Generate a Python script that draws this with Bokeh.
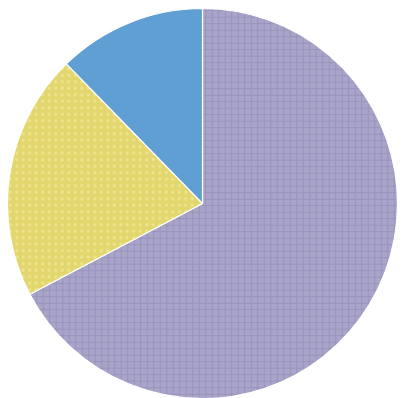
from math import pi
from bokeh.plotting import figure
from bokeh.models import Range1d, ColumnDataSource
from bokeh.embed import file_html
from bokeh.resources import INLINE

labels = ["A", "B", "C"]
values = [67.3, 20.4, 12.3]
colors = ["#A9A4C9", "#E2D66E", "#5F9FD3"]
hatch_colors = ["#8C87B1", "#F6EEA6", "#5F9FD3"]
hatch_patterns = ["cross", "dot", " "]

total = sum(values)
starts, ends = [], []
acc = 0.0
for v in values:
    # clockwise from 12 o'clock
    a0 = pi / 2 - 2 * pi * acc / total
    acc += v
    a1 = pi / 2 - 2 * pi * acc / total
    starts.append(a0)
    ends.append(a1)

src = ColumnDataSource(dict(label=labels, value=values, start=starts, end=ends,
                            color=colors, hcolor=hatch_colors, hpat=hatch_patterns,
                            x=[202] * 3, y=[398 - 203] * 3))

p = figure(width=402, height=398, output_backend="svg", toolbar_location=None,
           x_range=Range1d(0, 402), y_range=Range1d(0, 398), min_border=0)
p.wedge(x="x", y="y", radius=195, radius_units="screen",
        start_angle="start", end_angle="end", direction="clock",
        fill_color="color", line_color="white", line_width=1.2,
        hatch_pattern="hpat", hatch_color="hcolor", hatch_scale=6.5,
        hatch_weight=1, hatch_alpha=0.6, source=src)
p.axis.visible = False
p.grid.visible = False
p.outline_line_color = None
p.background_fill_color = "white"
p.border_fill_color = "white"

open("out.html", "w").write(file_html(p, INLINE))
